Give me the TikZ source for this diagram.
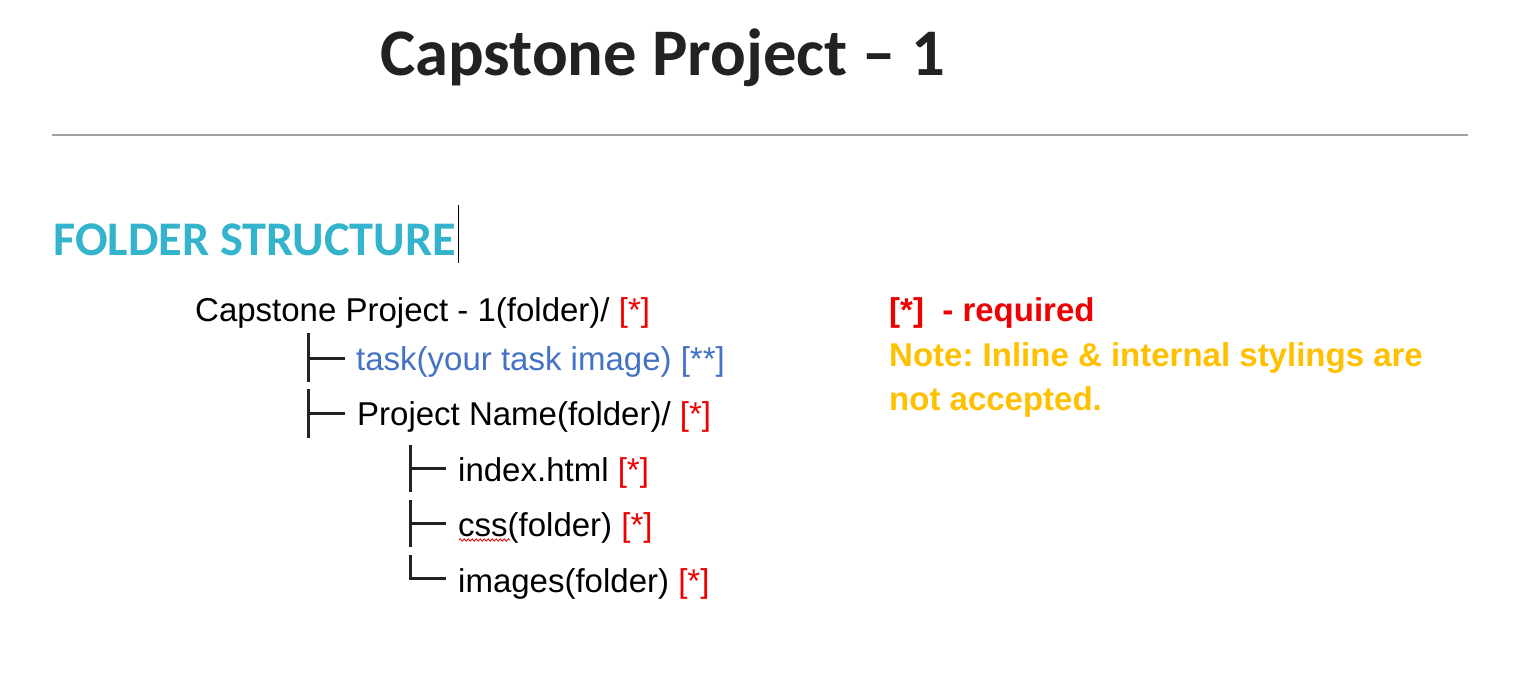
\documentclass[tikz,border=0pt]{standalone}
\usepackage{fontspec}
\setmainfont{Liberation Sans}
\newfontfamily\calibri{Carlito}
\usetikzlibrary{decorations.pathmorphing}
\definecolor{titlegray}{HTML}{222222}
\definecolor{headcyan}{HTML}{33B4CC}
\definecolor{taskblue}{HTML}{4472C4}
\definecolor{reqred}{HTML}{EE0000}
\definecolor{noteamber}{HTML}{FFC000}
\definecolor{rulegray}{HTML}{A0A0A0}
\definecolor{treeline}{HTML}{222222}
\tikzset{
  txt/.style={anchor=base west, inner sep=0pt, font=\fontsize{33}{40}\selectfont},
  branch/.style={draw=treeline, line width=3pt},
}
\newcommand{\req}{\textcolor{reqred}{[*]}}
\frenchspacing
\begin{document}
\frenchspacing
\begin{tikzpicture}[x=1pt,y=-1pt]
\useasboundingbox[fill=white] (0,0) rectangle (1522,684);
% title
\node[anchor=base west, inner sep=0pt, text=titlegray, font=\calibri\bfseries\fontsize{66.6}{72}\selectfont] (title) at (380,76) {Capstone Project – 1};
\draw[rulegray, line width=2pt] (52,135) -- (1468,135);
% heading
\node[anchor=base west, inner sep=0pt, text=headcyan, font=\calibri\bfseries\fontsize{48.3}{56}\selectfont] (head) at (53,256) {FOLDER STRUCTURE};
\draw[black, line width=1pt] (458.5,205) -- (458.5,263);
% tree
\node[txt] (root) at (195,322) {Capstone Project - 1(folder)/ \req};
\node[txt, text=taskblue] (task) at (356,370) {task(your task image) [**]};
\node[txt] (proj) at (357,425) {Project Name(folder)/ \req};
\node[txt] (index) at (458,481) {index.html \req};
\node[txt] (css) at (458,536) {css(folder) \req};
\node[txt] (img) at (458,592) {images(folder) \req};
% branches
\coordinate (b1t) at (308,333); \coordinate (b1b) at (308,382); \coordinate (b1m) at (308,358); \coordinate (b1e) at (345,358);
\coordinate (b2t) at (308,389); \coordinate (b2b) at (308,438); \coordinate (b2m) at (308,413); \coordinate (b2e) at (345,413);
\coordinate (b3t) at (410,445); \coordinate (b3b) at (410,492); \coordinate (b3m) at (410,468); \coordinate (b3e) at (446,468);
\coordinate (b4t) at (410,500); \coordinate (b4b) at (410,547); \coordinate (b4m) at (410,523); \coordinate (b4e) at (446,523);
\coordinate (b5t) at (410,555); \coordinate (b5c) at (410,578); \coordinate (b5e) at (446,578);
\draw[branch] (b1t) -- (b1b) (b1m) -- (b1e);
\draw[branch] (b2t) -- (b2b) (b2m) -- (b2e);
\draw[branch] (b3t) -- (b3b) (b3m) -- (b3e);
\draw[branch] (b4t) -- (b4b) (b4m) -- (b4e);
\draw[branch] (b5t) -- (b5c) -- (b5e);
% spell-check squiggle
\draw[reqred, line width=0.8pt, decorate, decoration={snake, amplitude=1.2pt, segment length=4pt}] (459,540) -- (510,540);
% notes
\node[txt, text=reqred, font=\bfseries\fontsize{33}{40}\selectfont] (req) at (889,322) {[*]\ \ - required};
\node[txt, text=noteamber, font=\bfseries\fontsize{33}{40}\selectfont] (note1) at (889,366) {Note: Inline \& internal stylings are};
\node[txt, text=noteamber, font=\bfseries\fontsize{33}{40}\selectfont] (note2) at (889,410) {not accepted.};
\end{tikzpicture}
\end{document}
